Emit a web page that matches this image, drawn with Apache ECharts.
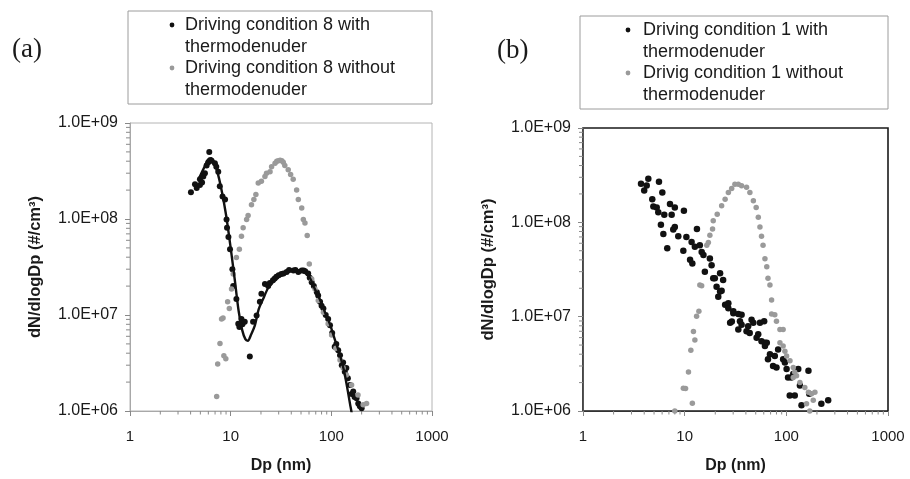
<!DOCTYPE html>
<html>
<head>
<meta charset="utf-8">
<script src="https://cdn.jsdelivr.net/npm/echarts@6/dist/echarts.min.js"></script>
<style>
  html, body { margin: 0; padding: 0; background: #fff; }
  #chart { width: 910px; height: 479px; }
</style>
</head>
<body>
<div id="chart"></div>
<script>
// Particle size distributions, dN/dlogDp vs. mobility diameter Dp (nm)

const panelLabels = ['(a)', '(b)'];
const legendTextA = ['Driving condition 8 with\nthermodenuder', 'Driving condition 8 without\nthermodenuder'];
const legendTextB = ['Driving condition 1 with\nthermodenuder', 'Drivig condition 1 without\nthermodenuder'];
const xTitle = 'Dp (nm)';
const yTitle = 'dN/dlogDp (#/cm³)';
const yTickLabels = { 6: '1.0E+06', 7: '1.0E+07', 8: '1.0E+08', 9: '1.0E+09' };
const xRange = [1, 1000];
const yRange = [1e6, 1e9];

// Minor tick positions on the logarithmic axes
const xMinorTicks = [2, 3, 4, 5, 6, 7, 8, 9, 20, 30, 40, 50, 60, 70, 80, 90, 200, 300, 400, 500, 600, 700, 800, 900];
const yMinorTicks = [2e6, 3e6, 4e6, 5e6, 6e6, 7e6, 8e6, 9e6, 2e7, 3e7, 4e7, 5e7, 6e7, 7e7, 8e7, 9e7, 2e8, 3e8, 4e8, 5e8, 6e8, 7e8, 8e8, 9e8];

// (a) Driving condition 8, with thermodenuder: [Dp, dN/dlogDp]
const cond8With = [
  [4.03, 1.9e8], [4.42, 2.3e8], [4.6, 2.1e8], [4.95, 2.6e8], [4.95, 2.26e8], [5.2, 2.4e8],
  [5.35, 2.77e8], [5.55, 3.0e8], [5.77, 3.6e8], [6.0, 3.9e8], [6.13, 5.0e8], [6.46, 4.05e8],
  [6.97, 3.8e8], [7.2, 3.5e8], [7.53, 3.1e8], [7.8, 2.2e8], [8.3, 1.72e8], [8.8, 1.6e8],
  [9.1, 9.9e7], [9.2, 8.1e7], [9.5, 6.5e7], [9.85, 4.85e7], [10.4, 3.0e7], [10.6, 2.0e7],
  [11.4, 1.47e7], [11.9, 8.1e6], [12.2, 7.5e6], [12.8, 9.1e6], [13.1, 8.0e6], [13.8, 8.5e6],
  [15.5, 3.7e6], [16.7, 8.5e6], [18.1, 9.9e6], [19.5, 1.37e7], [20.2, 1.66e7], [21.9, 2.1e7],
  [23.6, 2.0e7], [24.5, 2.15e7], [26.3, 2.3e7], [27.4, 2.4e7], [28.5, 2.5e7], [30, 2.6e7],
  [31.9, 2.67e7], [33.5, 2.7e7], [36, 2.8e7], [38, 2.95e7], [42, 2.9e7], [44, 2.95e7],
  [47, 2.8e7], [50.8, 2.9e7], [53, 2.9e7], [55, 2.85e7], [58.9, 2.7e7], [61, 2.45e7],
  [63.8, 2.2e7], [67, 2.0e7], [71.8, 1.73e7], [74, 1.6e7], [77.3, 1.37e7], [80, 1.25e7],
  [83.4, 1.17e7], [88, 1.0e7], [93, 9.1e6], [97, 7.8e6], [102, 6.5e6], [108, 4.66e6],
  [112, 5.0e6], [117, 4.3e6], [122, 3.8e6], [127, 3.0e6], [131, 3.2e6], [136, 2.57e6],
  [141, 2.8e6], [146, 2.2e6], [153, 1.87e6], [159, 1.5e6], [165, 1.6e6], [170, 1.4e6],
  [178, 1.36e6], [185, 1.2e6], [192, 1.12e6], [200, 1.07e6]
];

// (a) Driving condition 8, without thermodenuder
const cond8Without = [
  [7.26, 1.42e6], [7.43, 3.08e6], [7.83, 5.05e6], [8.12, 9.1e6], [8.4, 9.3e6], [8.56, 3.76e6],
  [8.95, 3.5e6], [9.33, 1.37e7], [9.7, 1.17e7], [10.2, 1.87e7], [10.6, 2.67e7], [11.4, 3.97e7],
  [12.2, 4.85e7], [12.8, 6.6e7], [13.3, 8.1e7], [14.4, 9.9e7], [14.9, 1.09e8], [16.1, 1.41e8],
  [17.0, 1.6e8], [17.8, 1.8e8], [18.8, 2.37e8], [20.2, 2.47e8], [21.9, 2.77e8], [22.7, 3.0e8],
  [24.6, 3.1e8], [25.5, 3.5e8], [27.6, 3.8e8], [28.7, 4.0e8], [29.8, 4.05e8], [31, 4.1e8],
  [32.2, 4.05e8], [33.3, 3.9e8], [34.5, 3.6e8], [37.3, 3.26e8], [39.4, 2.9e8], [41.8, 2.6e8],
  [45.2, 2.0e8], [47, 1.6e8], [50.8, 1.3e8], [52.7, 9.9e7], [54.7, 9.1e7], [57.6, 6.75e7],
  [60.4, 3.4e7], [63.8, 2.37e7], [68.8, 1.87e7], [74.2, 1.42e7], [83.4, 1.07e7], [93, 8.1e6],
  [100.6, 6.2e6], [111, 4.5e6], [122, 3.4e6], [131, 2.8e6], [141, 2.37e6], [159, 1.87e6],
  [184, 1.47e6], [207, 1.16e6], [224, 1.2e6]
];

// (a) Fitted bimodal curve for the thermodenuded sample
const cond8Fit = [
  [4.8, 2.6e8], [5.5, 3.5e8], [6.0, 4.2e8], [6.4, 4.3e8], [6.9, 3.8e8], [7.5, 2.9e8],
  [8.2, 1.9e8], [9.0, 1.1e8], [10, 5.0e7], [11, 2.3e7], [12, 1.1e7], [13, 7.0e6],
  [14, 5.6e6], [14.8, 5.4e6], [16, 6.3e6], [17.4, 7.8e6], [19, 1.15e7], [21, 1.47e7],
  [23.5, 1.9e7], [26.3, 2.2e7], [30, 2.5e7], [33.3, 2.67e7], [37, 2.8e7], [42, 2.9e7],
  [50, 2.9e7], [55, 2.75e7], [61, 2.45e7], [68, 1.9e7], [77, 1.45e7], [87, 1.05e7],
  [97, 8.0e6], [108, 5.6e6], [122, 3.8e6], [134, 2.6e6], [146, 1.6e6], [153, 1.2e6],
  [158, 1.0e6], [162, 0.85e6]
];

// (b) Driving condition 1, with thermodenuder
const cond1With = [
  [3.72, 2.57e8], [4.0, 2.17e8], [4.23, 2.46e8], [4.39, 2.9e8], [4.8, 1.76e8], [4.92, 1.47e8],
  [5.31, 1.44e8], [5.5, 1.28e8], [5.59, 2.7e8], [5.84, 9.4e7], [6.03, 2.07e8], [6.17, 7.5e7],
  [6.3, 1.2e8], [6.74, 5.3e7], [7.17, 1.56e8], [7.45, 1.2e8], [7.72, 8.4e7], [8.0, 1.44e8],
  [8.0, 8.9e7], [8.65, 7.1e7], [9.7, 5.0e7], [9.83, 1.33e8], [10.4, 7.0e7], [11.3, 4.0e7],
  [11.7, 6.2e7], [11.9, 3.66e7], [12.6, 5.5e7], [13.2, 8.5e7], [14.1, 5.7e7], [14.7, 4.86e7],
  [15.3, 4.5e7], [15.8, 3.0e7], [17.7, 4.13e7], [18.4, 3.5e7], [19.1, 2.55e7], [19.8, 2.55e7],
  [20.6, 2.08e7], [21.4, 1.63e7], [22.3, 2.88e7], [22.3, 1.85e7], [23.1, 1.88e7], [23.9, 2.45e7],
  [25, 1.34e7], [26.9, 1.39e7], [26.9, 1.23e7], [28, 8.6e6], [29.1, 8.9e6], [30.1, 1.14e7],
  [30.1, 1.09e7], [33.7, 1.07e7], [33.7, 7.3e6], [35, 8.95e6], [36.3, 1.05e7], [36.3, 8.2e6],
  [40.6, 7.0e6], [42.1, 7.9e6], [43.6, 6.7e6], [45.5, 9.3e6], [47.3, 8.6e6], [51, 5.97e6],
  [52.9, 6.5e6], [55, 8.6e6], [57, 5.5e6], [60.5, 8.95e6], [61.6, 5.3e6], [61.6, 4.9e6],
  [64.2, 5.3e6], [66, 3.54e6], [69, 4.0e6], [74, 3.0e6], [77, 3.84e6], [80, 2.9e6],
  [83, 4.5e6], [93, 3.54e6], [96.8, 3.27e6], [100.6, 2.78e6], [104, 2.27e6], [108, 1.46e6],
  [112, 2.27e6], [117, 2.46e6], [121, 1.46e6], [131, 2.78e6], [136, 1.86e6], [141, 1.15e6],
  [165, 2.67e6], [168, 1.52e6], [221, 1.19e6], [258, 1.3e6]
];

// (b) Driving condition 1, without thermodenuder
const cond1Without = [
  [8.0, 1.0e6], [9.7, 1.74e6], [10.2, 1.73e6], [10.9, 2.59e6], [11.5, 4.4e6], [11.9, 1.21e6],
  [12.2, 6.96e6], [12.6, 5.65e6], [13.1, 1.01e7], [13.8, 1.14e7], [14.1, 2.17e7], [14.7, 2.13e7],
  [16.5, 5.7e7], [17.1, 6.1e7], [17.7, 7.3e7], [18.8, 8.5e7], [19.1, 1.04e8], [20.9, 1.22e8],
  [23.1, 1.5e8], [25, 1.76e8], [26.9, 2.07e8], [29, 2.28e8], [31.2, 2.53e8], [33.7, 2.53e8],
  [36.3, 2.44e8], [40.6, 2.35e8], [43.8, 2.07e8], [47.4, 1.69e8], [50.5, 1.44e8], [53, 1.13e8],
  [55, 8.9e7], [57, 7.1e7], [59, 5.7e7], [61.6, 4.1e7], [64.2, 3.38e7], [66, 2.55e7],
  [69, 2.17e7], [71.6, 1.5e7], [71.6, 1.07e7], [77, 1.05e7], [80, 8.95e6], [86.5, 7.3e6],
  [93, 7.3e6], [86.5, 5.3e6], [93, 4.9e6], [96.8, 4.3e6], [100.6, 3.84e6], [108.6, 3.4e6],
  [117, 2.9e6], [121, 2.57e6], [117, 2.27e6], [126, 2.37e6], [136, 2.0e6], [152, 1.78e6],
  [158, 1.19e6], [165, 1.58e6], [170, 1.0e6], [177, 1.52e6], [184, 1.3e6], [191, 1.58e6]
];

const SANS = 'Liberation Sans, Arial, Helvetica, sans-serif';
const SERIF = 'Liberation Serif, Times New Roman, serif';
const BLACK = '#111111';
const GREY = '#9a9a9a';

const grids = [
  { left: 130, top: 123, width: 302, height: 290, show: true, borderColor: '#b4b4b4', borderWidth: 1, backgroundColor: '#fff' },
  { left: 583, top: 128, width: 305, height: 286, show: true, borderColor: '#1a1a1a', borderWidth: 1.6, backgroundColor: '#fff' }
];

function xAxisFor(i, lineColor) {
  return {
    type: 'log', logBase: 10, gridIndex: i, min: xRange[0], max: xRange[1],
    name: xTitle, nameLocation: 'middle', nameGap: 47,
    nameTextStyle: { fontFamily: SANS, fontSize: 16, fontWeight: 'bold', color: '#1a1a1a' },
    axisLine: { show: true, lineStyle: { color: lineColor, width: 1 } },
    axisTick: { show: true, length: 5, lineStyle: { color: '#888' } },
    axisLabel: { fontFamily: SANS, fontSize: 15, color: '#1a1a1a', margin: 18, formatter: v => String(v) },
    splitLine: { show: false }
  };
}

function yAxisFor(i, lineColor) {
  return {
    type: 'log', logBase: 10, gridIndex: i, min: yRange[0], max: yRange[1],
    name: yTitle, nameLocation: 'middle', nameRotate: 90, nameGap: 86,
    nameTextStyle: { fontFamily: SANS, fontSize: 16.5, fontWeight: 'bold', color: '#1a1a1a' },
    axisLine: { show: true, lineStyle: { color: lineColor, width: 1 } },
    axisTick: { show: true, length: 5, lineStyle: { color: '#888' } },
    axisLabel: {
      fontFamily: SANS, fontSize: 16, color: '#1a1a1a', margin: 12,
      formatter: v => yTickLabels[Math.round(Math.log10(v))] || ''
    },
    splitLine: { show: false }
  };
}

// Short minor tick marks drawn through the axis scales (outside the plot frame)
function minorTickSeries(i, axisDir) {
  const values = axisDir === 'x' ? xMinorTicks : yMinorTicks;
  return {
    type: 'custom', xAxisIndex: i, yAxisIndex: i, silent: true, clip: false, z: 1,
    data: values.map(v => axisDir === 'x' ? [v, yRange[0]] : [xRange[0], v]),
    renderItem(params, api) {
      const p = api.coord([api.value(0), api.value(1)]);
      const shape = axisDir === 'x'
        ? { x1: p[0], y1: p[1], x2: p[0], y2: p[1] + 3.5 }
        : { x1: p[0] - 4, y1: p[1], x2: p[0], y2: p[1] };
      return { type: 'line', shape, style: { stroke: '#8a8a8a', lineWidth: 1 } };
    }
  };
}

function scatter(i, name, data, color, size) {
  return {
    type: 'scatter', name, xAxisIndex: i, yAxisIndex: i, data,
    symbol: 'circle', symbolSize: size, clip: true,
    itemStyle: { color, opacity: 1 }, z: 3
  };
}

// Legend boxes: frame, bullets and two-line labels
function legendBox(x, y, w, h, bulletX, textX, labels) {
  return [
    { type: 'rect', shape: { x, y, width: w, height: h }, style: { fill: '#fff', stroke: '#9c9c9c', lineWidth: 1 } },
    { type: 'circle', shape: { cx: bulletX, cy: y + 14, r: 2.4 }, style: { fill: BLACK } },
    { type: 'circle', shape: { cx: bulletX, cy: y + 57, r: 2.4 }, style: { fill: GREY } },
    { type: 'text', x: textX, y: y + 3, style: { text: labels[0], font: '18px ' + SANS, fill: '#1a1a1a', lineHeight: 22 } },
    { type: 'text', x: textX, y: y + 46, style: { text: labels[1], font: '18px ' + SANS, fill: '#1a1a1a', lineHeight: 22 } }
  ];
}

const chart = echarts.init(document.getElementById('chart'), null, { renderer: 'canvas' });

chart.setOption({
  animation: false,
  backgroundColor: '#fff',
  grid: grids,
  xAxis: [xAxisFor(0, '#a8a8a8'), xAxisFor(1, '#333')],
  yAxis: [yAxisFor(0, '#a8a8a8'), yAxisFor(1, '#555')],
  series: [
    minorTickSeries(0, 'x'), minorTickSeries(0, 'y'),
    minorTickSeries(1, 'x'), minorTickSeries(1, 'y'),
    scatter(0, legendTextA[0], cond8With, BLACK, 6),
    scatter(0, legendTextA[1], cond8Without, GREY, 5.5),
    {
      type: 'line', name: 'fit', xAxisIndex: 0, yAxisIndex: 0, data: cond8Fit,
      smooth: 0.3, showSymbol: false, clip: true,
      lineStyle: { color: BLACK, width: 2.4 }, z: 4
    },
    scatter(1, legendTextB[0], cond1With, BLACK, 6.5),
    scatter(1, legendTextB[1], cond1Without, GREY, 5.5)
  ],
  graphic: [
    ...legendBox(128, 11, 304, 93, 172, 185, legendTextA),
    ...legendBox(580, 16, 308, 93, 628, 643, legendTextB),
    { type: 'text', x: 12, y: 36, style: { text: panelLabels[0], font: '27px ' + SERIF, fill: '#1a1a1a' } },
    { type: 'text', x: 497, y: 37, style: { text: panelLabels[1], font: '27px ' + SERIF, fill: '#1a1a1a' } }
  ]
});
</script>
</body>
</html>
